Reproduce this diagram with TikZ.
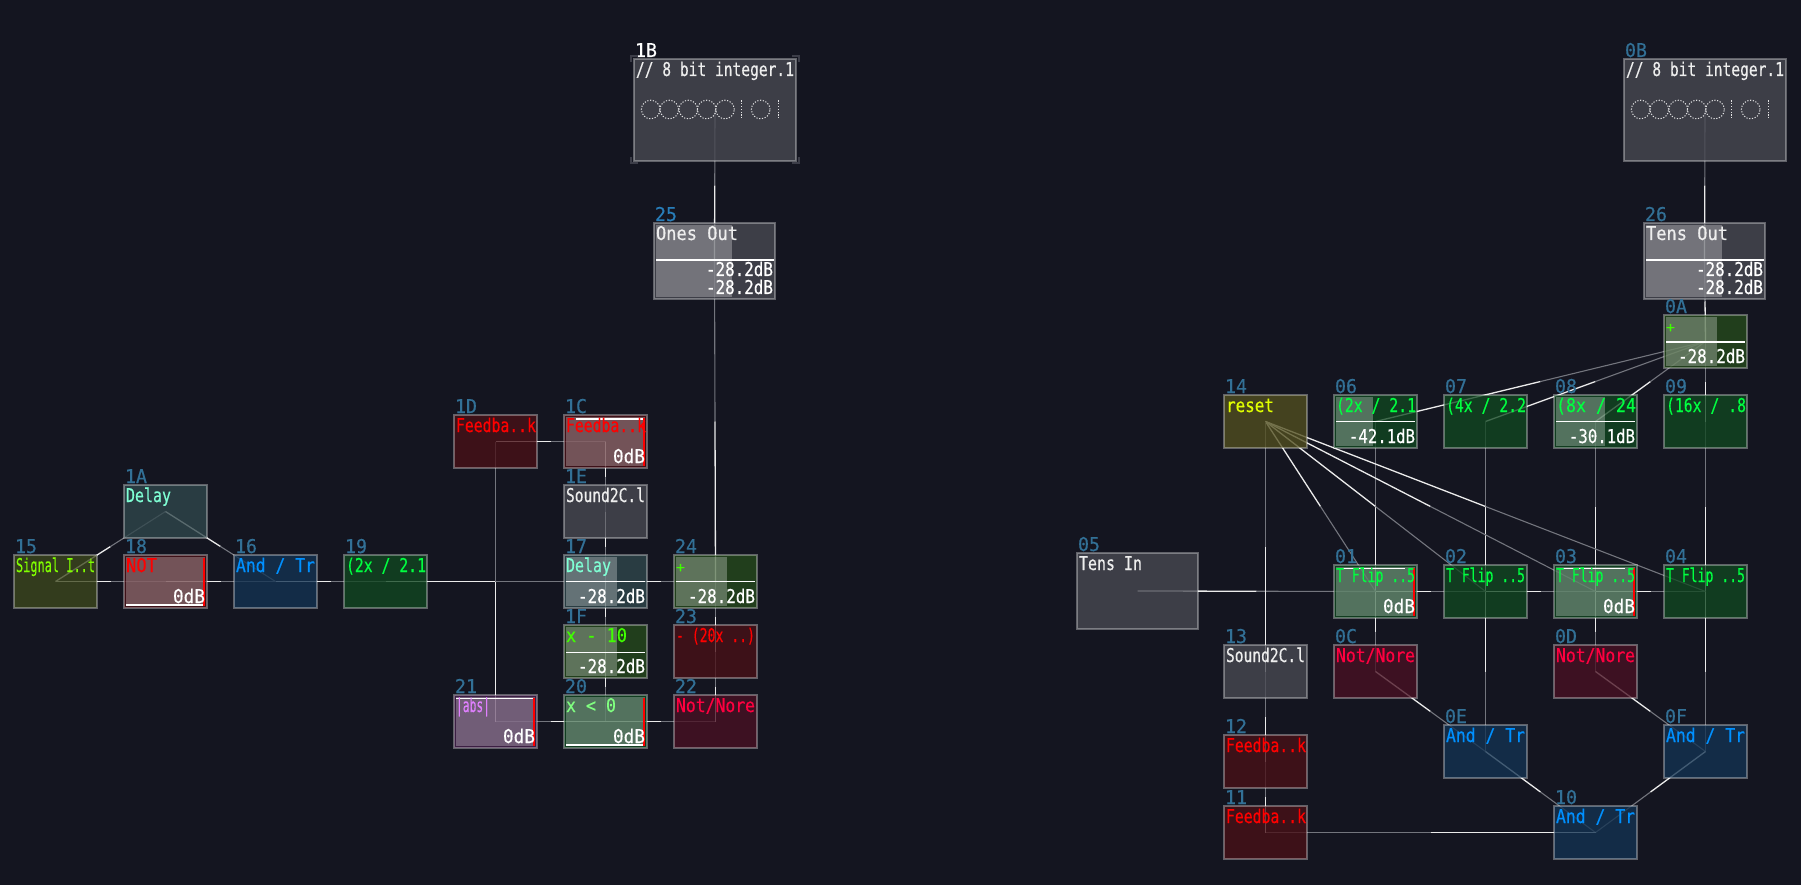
\documentclass[tikz,border=0pt]{standalone}
\usepackage{graphicx}
\usepackage{fontspec}
\setmainfont{DejaVu Sans Mono}[FakeBold=0.4]
\usetikzlibrary{calc}
\pgfdeclarelayer{bgl}
\pgfdeclarelayer{wires}
\pgfdeclarelayer{boxes}
\pgfdeclarelayer{meters}
\pgfsetlayers{bgl,wires,boxes,meters,main}
\definecolor{bgc}{RGB}{20,21,32}
\definecolor{flime}{RGB}{61,71,29}
\definecolor{fteal}{RGB}{48,71,76}
\definecolor{fred}{RGB}{73,17,23}
\definecolor{fblue}{RGB}{19,51,82}
\definecolor{fgreen}{RGB}{17,71,33}
\definecolor{folive}{RGB}{37,74,27}
\definecolor{fpink}{RGB}{73,17,35}
\definecolor{fgray}{RGB}{73,74,83}
\definecolor{fyellow}{RGB}{82,79,31}
\definecolor{fpurple}{RGB}{71,35,78}
\definecolor{clime}{RGB}{128,255,0}
\definecolor{cteal}{RGB}{127,255,212}
\definecolor{cred}{RGB}{255,0,0}
\definecolor{cblue}{RGB}{0,144,255}
\definecolor{cgreen}{RGB}{0,255,64}
\definecolor{cxm}{RGB}{64,255,0}
\definecolor{cpink}{RGB}{255,0,64}
\definecolor{cwhite}{RGB}{238,238,238}
\definecolor{cx0}{RGB}{128,255,128}
\definecolor{cabs}{RGB}{224,128,255}
\definecolor{cyel}{RGB}{224,255,0}
\definecolor{numc}{RGB}{50,112,150}
\definecolor{numb}{RGB}{40,125,185}
\definecolor{hot}{RGB}{235,235,235}
\definecolor{cold}{RGB}{115,117,125}
\definecolor{seld}{RGB}{60,61,72}
\tikzset{
  blkbox/.style={rectangle,inner sep=0pt,outer sep=0pt,draw=white,draw opacity=.33,fill opacity=.78,line width=1.2pt},
  sza/.style={minimum width=83pt,minimum height=53pt},
  szb/.style={minimum width=121pt,minimum height=76pt},
  szc/.style={minimum width=162pt,minimum height=102pt},
  txt/.style={inner sep=0pt,outer sep=0pt,font=\fontsize{19}{19}\selectfont},
  wirehot/.style={draw=hot,line width=1.3pt},
  wirecold/.style={draw=cold,line width=1.1pt},
  ovl/.style={fill=white,fill opacity=.28},
  meter/.style={draw=white,line width=1.2pt},
  redbar/.style={draw=red,line width=2pt},
  seln/.style={draw=seld,line width=2.5pt},
  dots/.style={draw=white,draw opacity=.85,line width=1pt,dash pattern=on 1.2pt off 1.6pt}
}
\newcommand\ttl[2]{\sbox0{#2}\pgfmathsetmacro\xsc{#1/\the\wd0}\scalebox{\xsc}[1]{#2}}
% [number colour]{name}{x}{y}{size}{fill}{text colour}{title width}{title}
\newcommand\blk[9][numc]{%
  \begin{pgfonlayer}{boxes}
  \node[blkbox,#5,fill=#6,anchor=north west] (n#2) at (#3,#4) {};
  \end{pgfonlayer}
  \node[txt,anchor=base west,text=#1] (l#2) at ([shift={(1pt,2pt)}]n#2.north west) {\ttl{22}{#2}};
  \node[txt,anchor=base west,text=#7] (t#2) at ([shift={(2pt,-17pt)}]n#2.north west) {\ttl{#8}{#9}};
}
\newcommand\val[3]{\node[txt,anchor=base east,text=white] (v#1) at ([shift={(-2pt,5pt)}]n#1.south east) {\ttl{#3}{#2}};}
\newcommand\wire[2]{%
  \begin{pgfonlayer}{wires}
    \draw[wirehot] (n#1.center) -- ($(n#1.center)!.5!(n#2.center)$);
    \draw[wirecold] ($(n#1.center)!.5!(n#2.center)$) -- (n#2.center);
  \end{pgfonlayer}}
\newcommand\bits[1]{%
  \foreach \cx in {650.7,669.3,688.3,706.7,725,760.7}{\draw[dots] (\cx+#1,109.5) circle (9.3pt);}
  \foreach \cx in {741.7,778}{\draw[dots] (\cx+#1,100.5) -- (\cx+#1,119);}
}
\begin{document}
\begin{tikzpicture}[x=1pt,y=-1pt]
\begin{pgfonlayer}{bgl}
\fill[bgc] (0,0) rectangle (1801,885);
\end{pgfonlayer}
\path[use as bounding box] (0,0) rectangle (1801,885);
% left group
\blk{15}{14}{555}{sza}{flime}{clime}{79}{Signal I..t}
\blk{1A}{124}{485}{sza}{fteal}{cteal}{45}{Delay}
\blk{18}{124}{555}{sza}{fred}{cred}{31}{NOT}
\blk{16}{234}{555}{sza}{fblue}{cblue}{79}{And / Tr}
\blk{19}{344}{555}{sza}{fgreen}{cgreen}{80}{(2x / 2.1}
\blk{1D}{454}{415}{sza}{fred}{cred}{80}{Feedba..k}
\blk{1C}{564}{415}{sza}{fred}{cred}{80}{Feedba..k}
\blk{1E}{564}{485}{sza}{fgray}{cwhite}{79}{Sound2C.l}
\blk{17}{564}{555}{sza}{fteal}{cteal}{45}{Delay}
\blk{24}{674}{555}{sza}{folive}{cxm}{9}{\fontsize{14}{14}\selectfont +}
\blk{1F}{564}{625}{sza}{folive}{cxm}{61}{x - 10}
\blk{23}{674}{625}{sza}{fred}{cred}{79}{- (20x ..)}
\blk{21}{454}{695}{sza}{fpurple}{cabs}{34}{|abs|}
\blk{20}{564}{695}{sza}{fgreen}{cx0}{50}{x < 0}
\blk{22}{674}{695}{sza}{fpink}{cpink}{79}{Not/Nore}
\blk[white]{1B}{634}{59}{szc}{fgray}{cwhite}{158}{// 8 bit integer.1}
\blk[numb]{25}{654}{223}{szb}{fgray}{cwhite}{82}{Ones Out}
% right group
\blk{0B}{1624}{59}{szc}{fgray}{cwhite}{158}{// 8 bit integer.1}
\blk{26}{1644}{223}{szb}{fgray}{cwhite}{82}{Tens Out}
\blk{0A}{1664}{315}{sza}{folive}{cxm}{9}{\fontsize{14}{14}\selectfont +}
\blk{14}{1224}{395}{sza}{fyellow}{cyel}{48}{reset}
\blk{06}{1334}{395}{sza}{fgreen}{cgreen}{80}{(2x / 2.1}
\blk{07}{1444}{395}{sza}{fgreen}{cgreen}{80}{(4x / 2.2}
\blk{08}{1554}{395}{sza}{fgreen}{cgreen}{80}{(8x / 24}
\blk{09}{1664}{395}{sza}{fgreen}{cgreen}{80}{(16x / .8}
\blk{05}{1077}{553}{szb}{fgray}{cwhite}{63}{Tens In}
\blk{01}{1334}{565}{sza}{fgreen}{cgreen}{79}{T Flip ..5}
\blk{02}{1444}{565}{sza}{fgreen}{cgreen}{79}{T Flip ..5}
\blk{03}{1554}{565}{sza}{fgreen}{cgreen}{79}{T Flip ..5}
\blk{04}{1664}{565}{sza}{fgreen}{cgreen}{79}{T Flip ..5}
\blk{13}{1224}{645}{sza}{fgray}{cwhite}{79}{Sound2C.l}
\blk{0C}{1334}{645}{sza}{fpink}{cpink}{79}{Not/Nore}
\blk{0D}{1554}{645}{sza}{fpink}{cpink}{79}{Not/Nore}
\blk{0E}{1444}{725}{sza}{fblue}{cblue}{79}{And / Tr}
\blk{0F}{1664}{725}{sza}{fblue}{cblue}{79}{And / Tr}
\blk{12}{1224}{735}{sza}{fred}{cred}{80}{Feedba..k}
\blk{11}{1224}{806}{sza}{fred}{cred}{80}{Feedba..k}
\blk{10}{1554}{806}{sza}{fblue}{cblue}{79}{And / Tr}
\begin{pgfonlayer}{meters}
% meter overlays
\fill[ovl] (126,557) rectangle (205,606);
\fill[ovl] (566,417) rectangle (645,466);
\fill[ovl] (566,557) rectangle (617,606);
\fill[ovl] (676,557) rectangle (727,606);
\fill[ovl] (566,627) rectangle (617,676);
\fill[ovl] (456,697) rectangle (535,746);
\fill[ovl] (566,697) rectangle (645,746);
\fill[ovl] (656,225) rectangle (732,297);
\fill[ovl] (1646,225) rectangle (1722,297);
\fill[ovl] (1666,317) rectangle (1717,366);
\fill[ovl] (1336,397) rectangle (1373,446);
\fill[ovl] (1556,397) rectangle (1605,446);
\fill[ovl] (1336,567) rectangle (1415,616);
\fill[ovl] (1556,567) rectangle (1635,616);
% meter lines
\draw[meter] (126,605) -- (205,605);
\draw[meter] (576,419) -- (645,419);
\draw[meter] (566,581.5) -- (645,581.5);
\draw[meter] (676,581.5) -- (755,581.5);
\draw[meter] (566,652.5) -- (645,652.5);
\draw[meter] (456,698.5) -- (535,698.5);
\draw[meter] (566,745) -- (645,745);
\draw[meter] (656,260) -- (774,260);
\draw[meter] (1646,260) -- (1764,260);
\draw[meter] (1666,342) -- (1745,342);
\draw[meter] (1336,421.5) -- (1415,421.5);
\draw[meter] (1556,421.5) -- (1635,421.5);
\draw[meter] (1343,568.7) -- (1405,568.7);
\draw[meter] (1563,568.7) -- (1625,568.7);
% red bars
\draw[redbar] (204,558) -- (204,606);
\draw[redbar] (644,418) -- (644,466);
\draw[redbar] (534,698) -- (534,746);
\draw[redbar] (644,698) -- (644,746);
\draw[redbar] (1414,568) -- (1414,616);
\draw[redbar] (1634,568) -- (1634,616);
\end{pgfonlayer}
% values
\val{18}{0dB}{32}
\val{1C}{0dB}{32}
\val{17}{-28.2dB}{67}
\val{24}{-28.2dB}{67}
\val{1F}{-28.2dB}{67}
\val{21}{0dB}{32}
\val{20}{0dB}{32}
\val{0A}{-28.2dB}{67}
\val{06}{-42.1dB}{66}
\val{08}{-30.1dB}{66}
\val{01}{0dB}{32}
\val{03}{0dB}{32}
\node[txt,anchor=base east,text=white] (v25a) at ([shift={(-2pt,23pt)}]n25.south east) {\ttl{67}{-28.2dB}};
\node[txt,anchor=base east,text=white] (v25b) at ([shift={(-2pt,5pt)}]n25.south east) {\ttl{67}{-28.2dB}};
\node[txt,anchor=base east,text=white] (v26a) at ([shift={(-2pt,23pt)}]n26.south east) {\ttl{67}{-28.2dB}};
\node[txt,anchor=base east,text=white] (v26b) at ([shift={(-2pt,5pt)}]n26.south east) {\ttl{67}{-28.2dB}};
% 8 bit displays
\bits{0}
\bits{990}
% selection corners of 1B
\draw[seln] (631,62) -- (631,56) -- (638,56);
\draw[seln] (799,62) -- (799,56) -- (792,56);
\draw[seln] (631,157) -- (631,163) -- (638,163);
\draw[seln] (799,157) -- (799,163) -- (792,163);
% connectors, left
\wire{15}{18}\wire{15}{1A}\wire{1A}{16}\wire{18}{16}\wire{16}{19}\wire{19}{17}
\wire{21}{1D}\wire{1D}{1C}\wire{1C}{1E}\wire{1E}{17}\wire{17}{24}\wire{17}{1F}
\wire{1F}{20}\wire{20}{21}\wire{20}{22}\wire{22}{23}\wire{23}{24}\wire{24}{25}\wire{25}{1B}
% connectors, right
\wire{05}{01}\wire{01}{02}\wire{02}{03}\wire{03}{04}
\wire{01}{06}\wire{02}{07}\wire{03}{08}\wire{04}{09}
\wire{06}{0A}\wire{07}{0A}\wire{08}{0A}\wire{09}{0A}\wire{0A}{26}\wire{26}{0B}
\wire{14}{01}\wire{14}{02}\wire{14}{03}\wire{14}{04}
\wire{01}{0C}\wire{03}{0D}\wire{0C}{0E}\wire{0D}{0F}\wire{02}{0E}\wire{04}{0F}
\wire{0E}{10}\wire{0F}{10}\wire{10}{11}\wire{11}{12}\wire{12}{13}\wire{13}{14}
\end{tikzpicture}
\end{document}
